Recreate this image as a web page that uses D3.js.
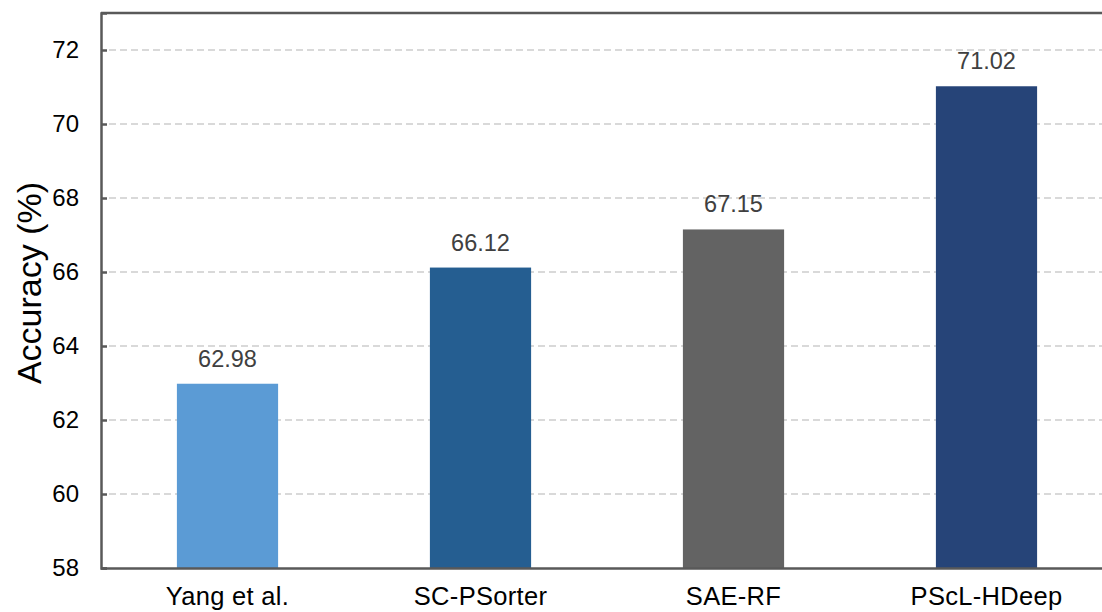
<!DOCTYPE html>
<html>
<head>
<meta charset="utf-8">
<script src="https://cdn.jsdelivr.net/npm/d3@7"></script>
<style>
  html, body { margin: 0; padding: 0; background: #fff; }
  svg { display: block; font-family: "Liberation Sans", Arial, sans-serif; }
</style>
</head>
<body>
<svg id="chart" width="1102" height="612"></svg>
<script>
// Accuracy of each method (%)
const methods = ["Yang et al.", "SC-PSorter", "SAE-RF", "PScL-HDeep"];
const accuracy = [62.98, 66.12, 67.15, 71.02];
const barColors = ["#5B9BD5", "#255E91", "#636363", "#264478"];
const yTicks = [58, 60, 62, 64, 66, 68, 70, 72];
const yDomain = [58, 73];

const svg = d3.select("#chart");
const margin = { left: 101, top: 13, bottom: 44 };
const plotW = 1012;               // plot extends past the right edge of the canvas
const plotH = 612 - margin.top - margin.bottom;

const x = d3.scaleBand()
  .domain(methods)
  .range([margin.left, margin.left + plotW])
  .paddingInner(0.6)
  .paddingOuter(0.3);

const y = d3.scaleLinear()
  .domain(yDomain)
  .range([margin.top + plotH, margin.top]);

// dashed horizontal gridlines
svg.append("g")
  .selectAll("line")
  .data(yTicks.filter(t => t > yDomain[0]))
  .join("line")
  .attr("x1", margin.left + 8)
  .attr("x2", margin.left + plotW)
  .attr("y1", d => y(d))
  .attr("y2", d => y(d))
  .attr("stroke", "#d9d9d9")
  .attr("stroke-width", 2.2)
  .attr("stroke-dasharray", "7,4");

// bars
svg.append("g")
  .selectAll("rect")
  .data(methods)
  .join("rect")
  .attr("x", d => x(d))
  .attr("width", x.bandwidth())
  .attr("y", (d, i) => y(accuracy[i]))
  .attr("height", (d, i) => y(yDomain[0]) - y(accuracy[i]))
  .attr("fill", (d, i) => barColors[i]);

// value labels above bars
svg.append("g")
  .selectAll("text")
  .data(methods)
  .join("text")
  .attr("x", d => x(d) + x.bandwidth() / 2)
  .attr("y", (d, i) => y(accuracy[i]) - 17)
  .attr("text-anchor", "middle")
  .attr("font-size", 23.5)
  .attr("fill", "#404040")
  .text((d, i) => accuracy[i].toFixed(2));

// frame: top border
svg.append("line")
  .attr("x1", margin.left).attr("x2", margin.left + plotW)
  .attr("y1", margin.top).attr("y2", margin.top)
  .attr("stroke", "#595959").attr("stroke-width", 2.5);

// y axis
const yAxis = svg.append("g")
  .attr("transform", `translate(${margin.left},0)`)
  .call(d3.axisRight(y).tickValues(yTicks).tickSize(6).tickFormat(d3.format("d")));
yAxis.select(".domain").attr("stroke", "#595959").attr("stroke-width", 2.5);
yAxis.selectAll(".tick line").attr("stroke", "#595959").attr("stroke-width", 2.5);
yAxis.selectAll(".tick text")
  .attr("x", -22)
  .attr("text-anchor", "end")
  .attr("font-size", 24)
  .attr("font-family", "Liberation Sans, Arial, sans-serif")
  .attr("fill", "#000");

// x axis
const xAxis = svg.append("g")
  .attr("transform", `translate(0,${y(yDomain[0])})`)
  .call(d3.axisBottom(x).tickSize(0).tickPadding(0));
xAxis.select(".domain").attr("stroke", "#595959").attr("stroke-width", 2.5);
xAxis.selectAll(".tick text")
  .attr("y", 37)
  .attr("dy", 0)
  .attr("font-size", 25.5)
  .attr("letter-spacing", 0.3)
  .attr("font-family", "Liberation Sans, Arial, sans-serif")
  .attr("fill", "#000");

// y axis title
svg.append("text")
  .attr("transform", "translate(41,283) rotate(-90)")
  .attr("text-anchor", "middle")
  .attr("font-size", 34)
  .attr("fill", "#000")
  .text("Accuracy (%)");
</script>
</body>
</html>
